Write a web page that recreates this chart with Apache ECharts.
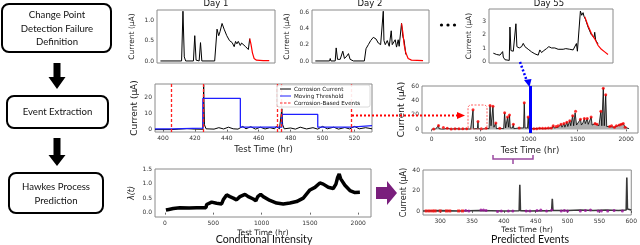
<!DOCTYPE html>
<html><head><meta charset="utf-8">
<script src="https://cdn.jsdelivr.net/npm/echarts@6/dist/echarts.min.js"></script>
<style>html,body{margin:0;padding:0;background:#fff}#c{width:640px;height:245px}</style>
</head><body><div id="c"></div>
<script>
// ---------- DATA ----------
const day1Current = [[0.7,0],[5.0,0],[5.28,1.22],[5.55,0.1],[5.83,0],[7.41,0],[7.68,0.62],[7.95,0.02],[8.57,0],[8.85,0.45],[9.12,0],[11.73,0],[12.21,0.78],[12.55,0.62],[12.82,0.72],[13.23,0.92],[13.65,0.78],[14.19,0.62],[14.74,0.5],[15.29,0.45],[15.7,0.35],[15.98,0.48],[16.25,0.42],[16.53,0.48],[16.94,0.38],[17.2,0.44],[17.49,0.42],[18.03,0.35],[18.58,0.28],[18.86,0.55]];
const day1Tail = [[18.86,0.55],[19.13,0.4],[19.41,0.2],[19.75,0.06],[20.23,0.02],[21.6,0.01],[22.83,0.01]];
const day2Current = [[0.68,0],[3.6,0],[3.74,0.03],[3.88,0],[4.76,0],[4.96,0.16],[5.24,0.02],[5.78,0.02],[6.32,0.12],[6.66,0.03],[7.14,0.06],[7.48,0.09],[7.82,0.02],[8.16,0.04],[8.5,0],[10.74,0],[11.08,0.15],[11.56,0.2],[12.04,0.25],[12.58,0.29],[13.12,0.27],[13.6,0.22],[14.08,0.2],[14.42,0.22],[14.62,0.61],[14.76,0.25],[15.03,0.2],[15.44,0.25],[15.84,0.18],[16.25,0.37],[16.46,0.2],[16.8,0.22],[17.07,0.26],[17.34,0.17],[17.68,0.26],[17.88,0.18],[18.16,0.16],[18.36,0.46],[18.63,0.3],[18.9,0.25],[19.24,0.08]];
const day2Tail = [[18.36,0.46],[18.63,0.35],[18.9,0.2],[19.24,0.1],[19.72,0.03],[20.4,0.01],[22.78,0.005]];
const day55Current = [[0.84,0.6],[1.48,0.5],[2.12,0.45],[2.44,0.35],[2.64,0.72],[2.77,0.3],[3.09,0.1],[3.41,0.05],[3.92,0.05],[4.05,2.6],[4.25,0.8],[4.7,0.75],[5.02,0.7],[5.21,2.85],[5.4,1.1],[5.85,1.0],[6.31,1.1],[6.63,1.35],[6.95,1.1],[7.59,0.9],[8.24,0.7],[8.88,0.55],[9.52,0.45],[9.84,0.85],[10.17,0.65],[10.62,0.8],[11.13,0.95],[11.58,1.1],[12.1,1.0],[12.74,1.0],[13.38,0.9],[13.7,1.0],[14.35,0.9],[14.86,0.95],[15.12,0.85],[15.63,0.9],[16.28,0.85],[16.66,0.75],[16.92,1.34],[17.11,0.75],[17.44,0.7],[17.69,3.82],[17.95,3.5],[18.21,3.7],[18.4,3.4],[18.66,3.2],[19.17,2.6],[19.82,2.0],[20.33,1.8],[20.46,2.2],[20.65,1.6],[21.1,1.3]];
const day55Tail = [[18.53,3.4],[19.17,2.7],[19.82,2.1],[20.46,1.7],[21.1,1.2],[21.75,0.9],[22.39,0.7],[23.03,0.5]];

const zoomCurrent = [[395,0],[405,0],[406,0.5],[410,0.3],[415,0.6],[420,0.3],[425,0.2],[425.5,28],[426,3],[427,0.5],[432,0.3],[435,1.2],[438,0.4],[441,1.5],[444,0.5],[447,0.3],[450,2],[452,0.5],[455,1.8],[458,0.3],[461,1.5],[464,0.4],[467,1.2],[470,0.5],[471,2],[473,0.5],[474.5,13],[475,3],[476,0.5],[480,1],[483,0.3],[486,1.5],[490,0.4],[494,1.2],[497,0.3],[500,2],[503,0.5],[507,1.5],[510,0.3],[514,1.3],[517,0.4],[520,2],[523,0.5],[527,1.2],[531,0.5]];
const zoomThreshold = [[395,0.4],[405.5,0.9],[425,19.5],[448.5,1.5],[474.5,9.5],[497,1.5],[518,2.5],[531,2.5]];
const zoomEventTimes = [405.3,425.3,471.5,474,518];

const fullCurrent = [[0,0.3],[40,0.5],[60,1],[70,5.5],[75,1],[100,0.5],[120,2.5],[125,0.5],[160,1.5],[165,0.3],[200,0.5],[250,1],[300,0.5],[350,0.8],[400,0.5],[420,0.5],[425,27],[430,1],[470,1],[476,11],[480,1],[520,0.5],[560,1.5],[590,1],[600,33],[610,5],[625,4],[630,32],[640,3],[655,2],[660,9],[665,1],[700,1.5],[740,1],[750,23],[760,2],[775,3],[780,17],[790,3],[800,20],[808,2],[830,2],[840,7],[845,1],[900,2],[945,2],[952,37],[960,2],[985,2],[992,17],[1000,1],[1020,0.5],[1050,1],[1100,1.5],[1150,1],[1200,1.5],[1240,2],[1250,5],[1260,2],[1300,3],[1330,7],[1340,3],[1360,8],[1370,3],[1390,10],[1400,4],[1420,12],[1430,5],[1450,19],[1460,5],[1475,23],[1480,25],[1490,6],[1510,8],[1530,14],[1540,6],[1555,9],[1570,15],[1580,8],[1600,15],[1610,7],[1625,9],[1640,17],[1650,6],[1680,8],[1700,7],[1720,5],[1740,25],[1750,5],[1765,57],[1775,5],[1790,48],[1800,4],[1830,4],[1850,5],[1880,3],[1900,5],[1930,6],[1950,7],[1970,8],[1990,3],[2010,2],[2030,1]];
const fullEvents = [[20,0.5],[70,5.5],[120,2.5],[160,1.5],[200,0.5],[240,0.8],[280,0.8],[320,1],[360,1],[425,27],[476,11],[510,1],[560,1.5],[600,33],[630,32],[660,9],[700,1.5],[750,23],[780,17],[800,20],[840,7],[900,2],[952,37],[992,17],[1050,1],[1080,1],[1110,1.5],[1140,1.5],[1170,1.5],[1200,2],[1230,2],[1250,5],[1280,4],[1300,5],[1330,7],[1360,8],[1390,10],[1420,12],[1450,19],[1480,25],[1530,14],[1570,15],[1600,15],[1640,17],[1680,8],[1700,7],[1740,25],[1765,57],[1790,48],[1830,4],[1850,5],[1880,3],[1900,5],[1930,6],[1950,7],[1970,8],[1990,3]];
const cutoffTime = 1017;

const intensity = [[10,0.09],[40,0.11],[86,0.14],[155,0.17],[250,0.16],[328,0.17],[424,0.17],[432,0.28],[438,0.31],[483,0.36],[534,0.32],[586,0.3],[603,0.44],[638,0.61],[672,0.55],[707,0.5],[741,0.44],[776,0.55],[828,0.63],[862,0.55],[914,0.47],[941,0.41],[960,0.55],[966,0.61],[990,0.63],[1017,0.55],[1086,0.42],[1155,0.33],[1224,0.3],[1293,0.33],[1362,0.38],[1431,0.5],[1500,0.78],[1552,0.87],[1603,1.02],[1638,0.98],[1690,0.87],[1741,0.83],[1769,0.98],[1786,1.2],[1803,1.33],[1817,1.17],[1862,0.94],[1914,0.76],[1966,0.69],[2017,0.7]];

const predCurrent = [[273,0],[300,0.3],[330,0],[360,0.4],[400,0],[424,0.2],[425,26],[426,0.3],[440,0],[475,0.3],[476,12],[477,0.5],[500,0.5],[520,1],[540,0.5],[560,1],[580,0.5],[592,1],[593,33],[594,2],[600,1]];
const predObserved = [[278,0],[283,0],[288,0],[292,0],[300,0],[310,0],[315,0],[329,0],[335,0]];
const predForecast = [[340,0.5],[345,0],[364,1],[368,1],[372,0.5],[390,-0.5],[396,0],[407,0],[414,0],[435,0],[441,0],[452,0.5],[458,1],[467,0],[475,1],[490,0],[495,0.5],[500,0],[520,0],[528,0.5],[536,1],[548,0],[553,0],[563,0],[573,0.5],[586,0]];

const xTicksZoom = [400,420,440,460,480,500,520];
const xTicksFull = [0,500,1000,1500,2000];
const xTicksPred = [300,350,400,450,500,550,600];

// ---------- CHART ----------
const FONT = 'DejaVu Sans';
const chart = echarts.init(document.getElementById('c'), null, {renderer:'canvas'});

function xax(g, min, max, ticks, extra) {
  const show = !!ticks;
  return Object.assign({
    type:'value', gridIndex:g, min:min, max:max,
    splitLine:{show:false}, axisLine:{show:false},
    axisTick:{show:show, customValues:ticks||[], length:2, lineStyle:{color:'#444', width:0.8}},
    axisLabel:{show:show, customValues:ticks||[], formatter: v => String(Math.round(v)), fontSize:6, color:'#333', margin:3, fontFamily:FONT}
  }, extra||{});
}
function yax(g, min, max, step, major, digits, extra) {
  return Object.assign({
    type:'value', gridIndex:g, min:min, max:max, interval:step,
    splitLine:{show:false}, axisLine:{show:false}, axisTick:{show:false},
    axisLabel:{show:true, fontSize:6, color:'#333', margin:3, fontFamily:FONT, hideOverlap:false,
      formatter: v => {
        const r = Math.round(v / major);
        if (Math.abs(v / major - r) > 1e-6 || r < 0) return '';
        return (r * major).toFixed(digits);
      }}
  }, extra||{});
}
const yName = (gap, size) => ({name:'Current (μA)', nameLocation:'middle', nameGap:gap, nameRotate:90, nameMoveOverlap:false, nameTextStyle:{fontFamily:FONT, fontSize:size, color:'#222'}});
const xName = (gap, size) => ({name:'Test Time (hr)', nameLocation:'middle', nameGap:gap, nameMoveOverlap:false, nameTextStyle:{fontFamily:FONT, fontSize:size, color:'#222'}});

const gridBase = {show:true, borderColor:'#8a8a8a', borderWidth:1, backgroundColor:'transparent', containLabel:false};
const grids = [
  {left:157, top:10, width:118, height:53},
  {left:312, top:10, width:117, height:53},
  {left:489, top:9, width:124, height:54},
  {left:155, top:84, width:217, height:48},
  {left:422, top:86, width:216, height:47},
  {left:155, top:169, width:216, height:48},
  {left:423, top:170, width:211, height:45}
].map(g => Object.assign({}, gridBase, g));

const xAxes = [
  xax(0,0,24,null), xax(1,0,24,null), xax(2,0,24,null),
  xax(3,395,531,xTicksZoom, xName(13,8.5)),
  xax(4,-100,2122,xTicksFull, xName(13,8.5)),
  xax(5,-103,2132,xTicksFull, xName(12,7.5)),
  xax(6,273,600,xTicksPred, xName(11,7.5))
];
const yAxes = [
  yax(0,-0.05,1.25,0.05,0.5,1, yName(21,7.5)),
  yax(1,-0.025,0.625,0.025,0.2,1, yName(21,7.5)),
  yax(2,-0.15,3.98,0.05,1,0, yName(16,7.5)),
  yax(3,-1.5,28.5,0.5,10,0, yName(16,9)),
  yax(4,-5,60,1,20,0, yName(16,9)),
  yax(5,-0.15,1.5,0.05,0.5,1, {name:'λ(t)', nameLocation:'middle', nameGap:19, nameRotate:90, nameMoveOverlap:false, nameTextStyle:{fontFamily:FONT, fontSize:8, fontStyle:'italic', color:'#222'}}),
  yax(6,-4,40.5,0.5,20,0, yName(15,8))
];

function line(i, data, color, width, extra) {
  return Object.assign({type:'line', xAxisIndex:i, yAxisIndex:i, data:data, showSymbol:false, symbol:'none',
    lineStyle:{color:color, width:width}, itemStyle:{color:color}, silent:true, z:3}, extra||{});
}
function dots(i, data, color, size, extra) {
  return Object.assign({type:'scatter', xAxisIndex:i, yAxisIndex:i, data:data, symbolSize:size,
    itemStyle:{color:color}, silent:true, z:5}, extra||{});
}

const series = [
  line(0, day1Current, '#000', 1), line(0, day1Tail, '#ff0000', 1.2, {z:4}),
  line(1, day2Current, '#000', 1), line(1, day2Tail, '#ff0000', 1.2, {z:4}),
  line(2, day55Current, '#000', 1), line(2, day55Tail, '#ff0000', 1.2, {z:4}),
  line(3, zoomCurrent, '#000', 1),
  line(3, zoomThreshold, '#1f1fff', 1.3, {step:'end', z:4}),
  dots(3, [], '#f00', 0, {markLine:{silent:true, symbol:['none','none'], label:{show:false},
      lineStyle:{color:'#ff2020', type:[3,2], width:1.3}, data: zoomEventTimes.map(t => ({xAxis:t}))}}),
  line(4, fullCurrent, '#000', 0.8, {areaStyle:{color:'#a0a0a0', opacity:0.85}}),
  dots(4, fullEvents, '#ff0000', 3),
  dots(4, [], '#00f', 0, {markLine:{silent:true, symbol:['none','none'], label:{show:false},
      lineStyle:{color:'#0000ff', type:'solid', width:3}, data:[{xAxis:cutoffTime}]}}),
  line(5, intensity, '#000', 3.5),
  line(6, predCurrent, '#3a3a3a', 1.6),
  dots(6, predObserved, '#ff1010', 3, {symbol:'rect'}),
  dots(6, predForecast, '#9a109a', 3)
];

// ---------- annotations ----------
const txt = (x,y,s,size,opt) => ({type:'text', x:x, y:y, style:Object.assign({text:s, fontSize:size, fontFamily:FONT, fill:'#111', align:'center', verticalAlign:'middle'}, opt||{}), z:20});
const FF = 'Lato';
const box = (x,y,w,h) => ({type:'rect', shape:{x:x,y:y,width:w,height:h,r:7}, style:{fill:'#fff', stroke:'#000', lineWidth:2}, z:10});
const downArrow = (cx, y0, y1, y2) => ({type:'polygon', shape:{points:[[cx-3.5,y0],[cx+3.5,y0],[cx+3.5,y1],[cx+8.5,y1],[cx,y2],[cx-8.5,y1],[cx-3.5,y1]]}, style:{fill:'#000'}, z:10});
const FS = 9.6;

const graphic = [
  box(2,4,109,48),
  txt(57,15,'Change Point',FS,{fontFamily:FF}), txt(57,28.5,'Detection Failure',FS,{fontFamily:FF}), txt(57,42,'Definition',FS,{fontFamily:FF}),
  downArrow(57,63,77,89),
  box(7,96,101,32),
  txt(57.5,112,'Event Extraction',FS,{fontFamily:FF}),
  downArrow(57,138,155,166),
  box(9,173,94,40),
  txt(56,187,'Hawkes Process',FS,{fontFamily:FF}), txt(56,200.5,'Prediction',FS,{fontFamily:FF}),
  txt(216,4,'Day 1',8.5), txt(370,4,'Day 2',8.5), txt(549,4,'Day 55',8.5),
  {type:'circle', shape:{cx:441.5,cy:25,r:1.6}, style:{fill:'#000'}, z:20},
  {type:'circle', shape:{cx:448,cy:25,r:1.6}, style:{fill:'#000'}, z:20},
  {type:'circle', shape:{cx:454.5,cy:25,r:1.6}, style:{fill:'#000'}, z:20},
  {type:'rect', shape:{x:277,y:85,width:93,height:22,r:2}, style:{fill:'rgba(255,255,255,0.9)', stroke:'#d0d0d0', lineWidth:0.8}, z:15},
  {type:'line', shape:{x1:280,y1:89,x2:291,y2:89}, style:{stroke:'#000', lineWidth:1}, z:16},
  {type:'line', shape:{x1:280,y1:96,x2:291,y2:96}, style:{stroke:'#1f1fff', lineWidth:1}, z:16},
  {type:'line', shape:{x1:280,y1:103,x2:291,y2:103}, style:{stroke:'#ff2020', lineWidth:1.2, lineDash:[2.5,1.5]}, z:16},
  txt(294,89.5,'Corrosion Current',5.6,{align:'left'}),
  txt(294,96.5,'Moving Threshold',5.6,{align:'left'}),
  txt(294,103.5,'Corrosion-Based Events',5.6,{align:'left'}),
  {type:'line', shape:{x1:352,y1:115.5,x2:459,y2:115.5}, style:{stroke:'#ff0000', lineWidth:2, lineDash:[2,2]}, z:18},
  {type:'polygon', shape:{points:[[457,112],[465,115.5],[457,119]]}, style:{fill:'#ff0000'}, z:18},
  {type:'rect', shape:{x:468,y:105,width:19,height:24,r:3}, style:{fill:'none', stroke:'#ff5050', lineWidth:0.9, lineDash:[2,1.5]}, z:18},
  {type:'line', shape:{x1:520,y1:62,x2:526.5,y2:80}, style:{stroke:'#0000ff', lineWidth:2.5, lineDash:[2,2]}, z:18},
  {type:'polygon', shape:{points:[[524,80],[531.5,79],[529.5,87]]}, style:{fill:'#0000ff'}, z:18},
  {type:'polyline', shape:{points:[[493,155],[493,159],[533,159],[533,155]]}, style:{stroke:'#9a4aa0', lineWidth:1.5, fill:'none'}, z:18},
  {type:'line', shape:{x1:513,y1:159,x2:513,y2:164}, style:{stroke:'#9a4aa0', lineWidth:1.5}, z:18},
  {type:'polygon', shape:{points:[[376,187],[387,187],[387,181],[397,193],[387,205],[387,199],[376,199]]}, style:{fill:'#7a1f7d'}, z:18},
  txt(264,240,'Conditional Intensity',10.6,{fontFamily:FF}),
  txt(530,240,'Predicted Events',10.6,{fontFamily:FF})
];

chart.setOption({
  animation:false, backgroundColor:'#fff',
  grid:grids, xAxis:xAxes, yAxis:yAxes, series:series, graphic:graphic
});
</script></body></html>
